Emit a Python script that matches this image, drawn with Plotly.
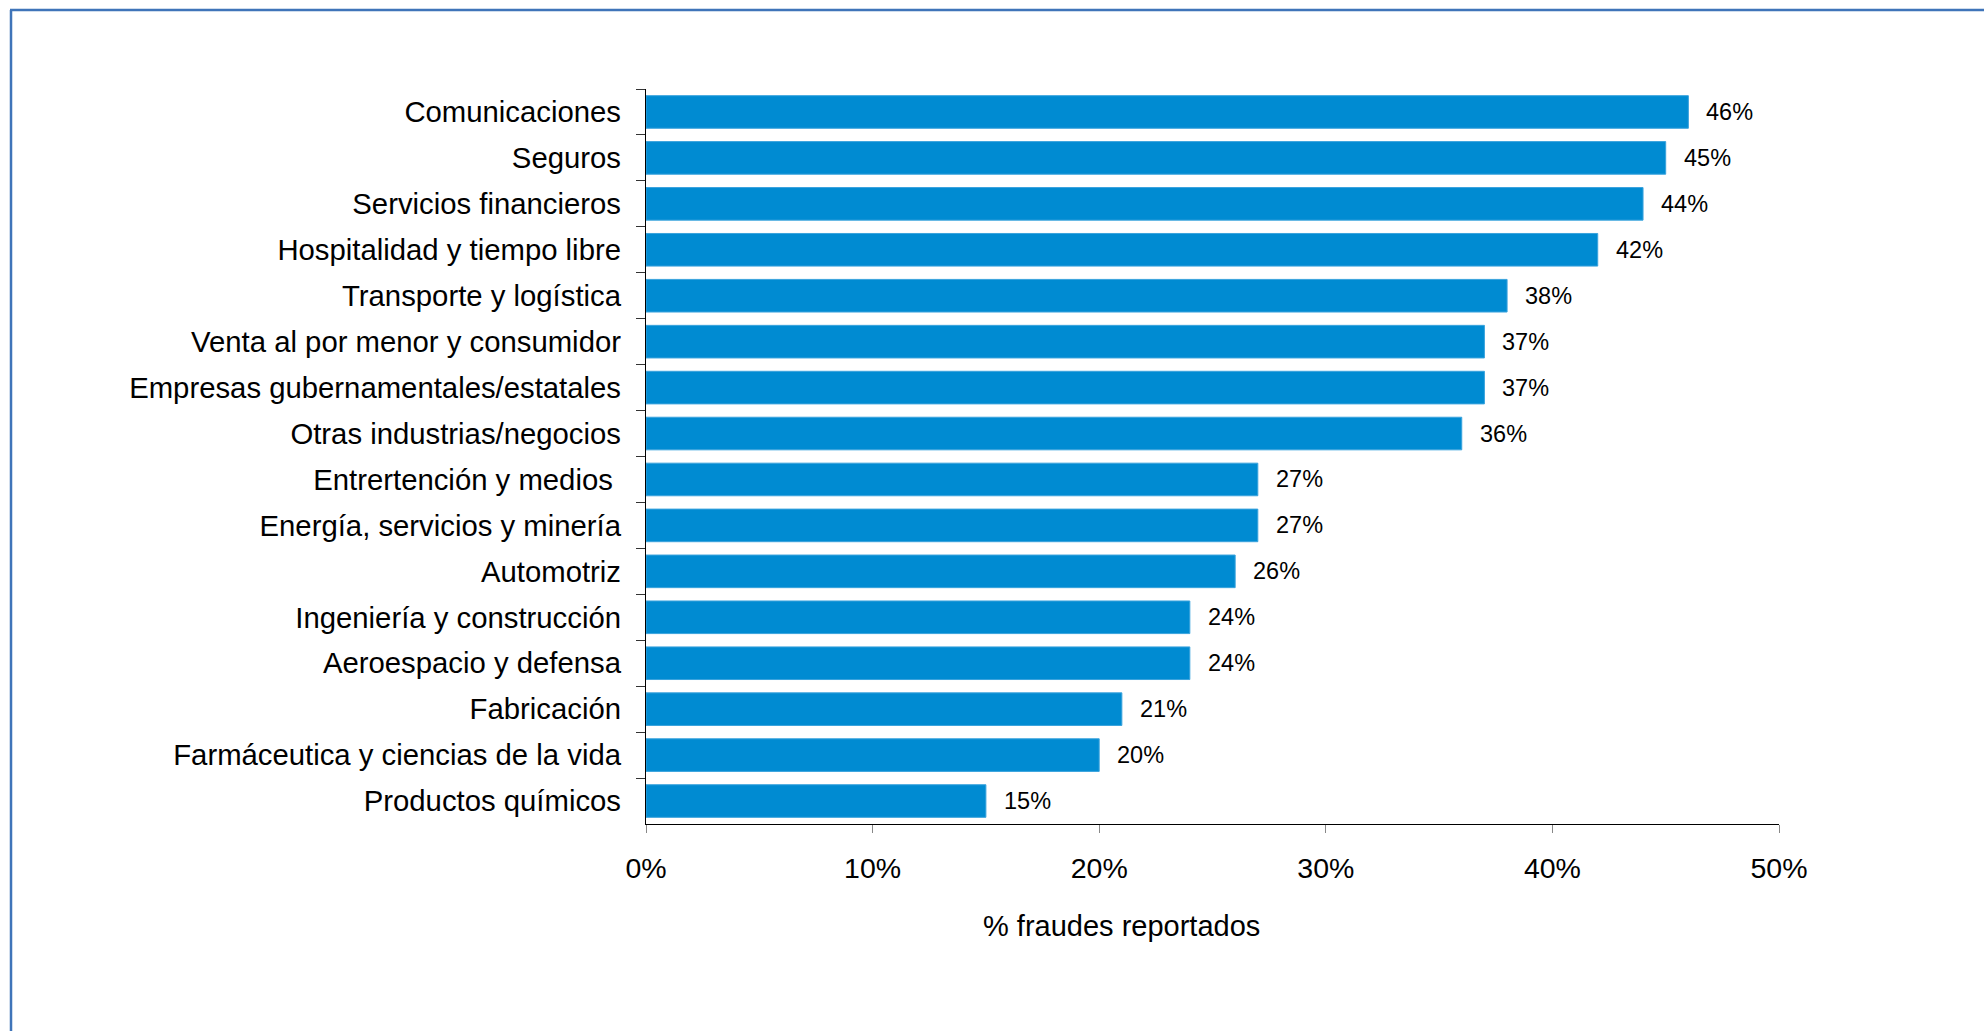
import plotly.graph_objects as go

# Sectors (top to bottom) and share of reported frauds, in percent
sectors = [
    "Comunicaciones",
    "Seguros",
    "Servicios financieros",
    "Hospitalidad y tiempo libre",
    "Transporte y logística",
    "Venta al por menor y consumidor",
    "Empresas gubernamentales/estatales",
    "Otras industrias/negocios",
    "Entrertención y medios\u00a0",
    "Energía, servicios y minería",
    "Automotriz",
    "Ingeniería y construcción",
    "Aeroespacio y defensa",
    "Fabricación",
    "Farmáceutica y ciencias de la vida",
    "Productos químicos",
]
fraud_pct = [46, 45, 44, 42, 38, 37, 37, 36, 27, 27, 26, 24, 24, 21, 20, 15]
x_ticks = [0, 10, 20, 30, 40, 50]
x_tick_labels = ["0%", "10%", "20%", "30%", "40%", "50%"]
x_title = "% fraudes reportados"

W, H = 1984, 1031
M_L, M_R, M_T, M_B = 646, 205, 89, 207
PW, PH = W - M_L - M_R, H - M_T - M_B


def px_x(px):
    return (px - M_L) / PW


def px_y(py):
    return (H - M_B - py) / PH


FONT = "Liberation Sans, Arial, sans-serif"
BAR = "#008BD2"

fig = go.Figure(
    go.Bar(
        x=fraud_pct,
        y=sectors,
        orientation="h",
        width=0.71,
        marker=dict(color=BAR, line=dict(color="#3AA3DD", width=1)),
        hoverinfo="skip",
    )
)

# value labels at the end of each bar
for s, v in zip(sectors, fraud_pct):
    fig.add_annotation(
        x=v, y=s, text=f"{v}%", showarrow=False,
        xanchor="left", yanchor="middle", xshift=16,
        font=dict(family=FONT, size=23.5, color="#000000"),
    )

# axis title
fig.add_annotation(
    x=px_x(1121), y=px_y(926), xref="paper", yref="paper",
    text=x_title, showarrow=False, xanchor="center", yanchor="middle",
    font=dict(family=FONT, size=29, color="#000000"),
)

# frame around the chart (left and top edges)
border = dict(color="#3F74B9", width=2.5)
fig.add_shape(type="line", xref="paper", yref="paper",
              x0=px_x(11), x1=px_x(11), y0=px_y(10), y1=px_y(1100), line=border)
fig.add_shape(type="line", xref="paper", yref="paper",
              x0=px_x(10), x1=px_x(2100), y0=px_y(10), y1=px_y(10), line=border)

fig.update_layout(
    width=W, height=H, autosize=False,
    margin=dict(l=M_L, r=M_R, t=M_T, b=M_B, pad=0),
    paper_bgcolor="white", plot_bgcolor="white",
    showlegend=False,
    font=dict(family=FONT, color="#000000"),
    xaxis=dict(
        range=[0, 50], tickmode="array", tickvals=x_ticks, ticktext=x_tick_labels,
        showgrid=False, zeroline=False,
        showline=True, linecolor="#000000", linewidth=1.3,
        ticks="outside", ticklen=8, tickcolor="#888888", tickwidth=1.3,
        tickfont=dict(family=FONT, size=28.5, color="#000000"),
        ticklabelstandoff=11,
    ),
    yaxis=dict(
        autorange="reversed", categoryorder="array", categoryarray=sectors,
        showgrid=False, zeroline=False,
        showline=True, linecolor="#000000", linewidth=1.3,
        ticks="outside", tickson="boundaries", ticklen=9,
        tickcolor="#333333", tickwidth=1.3,
        tickfont=dict(family=FONT, size=29.3, color="#000000"),
        ticklabelstandoff=18,
    ),
)

fig.write_html("out.html")
